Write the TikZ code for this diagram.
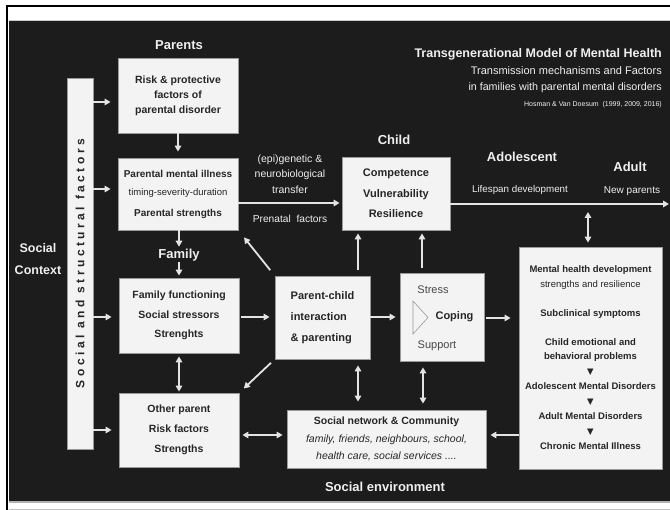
\documentclass[tikz,border=0pt]{standalone}
\usepackage{fontspec}
\setmainfont{Liberation Sans}
\newfontfamily\widefont[LetterSpace=29]{Liberation Sans}
\newfontfamily\symbfont{DejaVu Sans}
\usetikzlibrary{arrows.meta}

\definecolor{bgdark}{HTML}{1C1C1C}
\definecolor{boxfill}{HTML}{F3F3F3}
\definecolor{boxline}{HTML}{9A9A9A}
\definecolor{arrcol}{HTML}{E4E4E4}
\definecolor{boxtext}{HTML}{262626}
\definecolor{labtext}{HTML}{EFEFEF}
\newcommand{\fsz}[2]{\fontsize{#1}{#2}\selectfont}

\begin{document}
\begin{tikzpicture}[x=1pt, y=-1pt,
    box/.style={draw=boxline, fill=boxfill, line width=0.8pt, text=boxtext, inner sep=0pt, align=center},
    lab/.style={text=labtext, inner sep=1pt, align=center},
    arr/.style={draw=arrcol, line width=1.8pt, -{Triangle[length=6pt,width=6.5pt]}},
    dblarr/.style={arr, {Triangle[length=6pt,width=6.5pt]}-{Triangle[length=6pt,width=6.5pt]}}]
    \useasboundingbox (0,0) rectangle (670,510);
    \fill[white] (0,0) rectangle (670,510);
    \fill[bgdark] (9,20) rectangle (670,501);
    \draw[line width=2pt] (6,6) -- (670,6);
    \draw[line width=2pt] (7,5) -- (7,510);
    \draw[gray!40, line width=1pt] (9,20.5) -- (670,20.5);
    \draw[gray!60, line width=1.2pt] (9,502) -- (670,502);
    \draw[gray!50, line width=0.8pt] (9,509) -- (670,509);

    \node[lab, anchor=base east, font=\fsz{12.5}{15}\bfseries] (title) at (663,58) {Transgenerational Model of Mental Health};
    \node[lab, anchor=base east, font=\fsz{11}{13}] (subtitle) at (663,75) {Transmission mechanisms and Factors};
    \node[lab, anchor=base east, font=\fsz{10.7}{13}] (subtitleb) at (663,91) {in families with parental mental disorders};
    \node[lab, anchor=base east, font=\fsz{7}{9}, text=labtext!80] (credit) at (663,106.5) {Hosman \& Van Doesum \ (1999, 2009, 2016)};

    \node[box, rotate=90, minimum width=371pt, minimum height=26pt, font=\fsz{12}{13}\bfseries\widefont] (bar) at (80,263.5) {Social and structural factors};
    \node[lab, font=\fsz{12.5}{22}\bfseries] (context) at (38,259) {Social\\Context};

    \node[box, minimum width=120pt, minimum height=75pt, font=\fsz{10.5}{15}\bfseries] (risk) at (178,95.5) {Risk \& protective\\factors of\\parental disorder};
    \node[box, minimum width=120pt, minimum height=72pt, font=\fsz{10}{19}] (pmi) at (178,194) {{\bfseries Parental mental illness}\\[-1pt]{\fsz{9.5}{19}timing-severity-duration}\\[2pt]{\bfseries Parental strengths}};
    \node[box, minimum width=120pt, minimum height=75pt, font=\fsz{10.5}{19.5}\bfseries] (ff) at (179,315.5) {Family functioning\\Social stressors\\Strenghts};
    \node[box, minimum width=120pt, minimum height=74pt, font=\fsz{10.5}{20}\bfseries] (op) at (179,430) {Other parent\\Risk factors\\Strengths};
    \node[box, minimum width=95pt, minimum height=83pt, align=left, font=\fsz{11}{21}\bfseries] (pc) at (322.5,317.5) {Parent-child\\interaction\\\& parenting};
    \node[box, minimum width=84pt, minimum height=88pt] (sc) at (442,317) {};
    \node[box, minimum width=108pt, minimum height=73pt, font=\fsz{11}{20.5}\bfseries] (child) at (396,193.5) {Competence\\Vulnerability\\Resilience};
    \node[box, minimum width=199pt, minimum height=58pt, font=\fsz{10.5}{17.5}] (sn) at (386.5,439) {{\bfseries Social network \& Community}\\{\itshape family, friends, neighbours, school,}\\{\itshape health care, social services ....}};
    \node[box, minimum width=143pt, minimum height=222pt, font=\fsz{9.5}{15}\bfseries] (mh) at (590.5,358) {Mental health development\\{\mdseries strengths and resilience}\\[14pt]Subclinical symptoms\\[14pt]Child emotional and\\[-1pt]behavioral problems\\{\symbfont\fsz{8.5}{15}▼}\\Adolescent Mental Disorders\\{\symbfont\fsz{8.5}{15}▼}\\Adult Mental Disorders\\{\symbfont\fsz{8.5}{15}▼}\\Chronic Mental Illness};

    \node[font=\fsz{11}{13}, text=boxtext!85, inner sep=0pt] (stress) at (433,290) {Stress};
    \node[font=\fsz{11}{13}\bfseries, text=boxtext, inner sep=0pt] (coping) at (454.5,317) {Coping};
    \node[font=\fsz{11}{13}, text=boxtext!85, inner sep=0pt] (support) at (437,346) {Support};
    \draw[boxline, line width=0.6pt] (413,301) -- (428,317.5) -- (413,334) -- cycle;

    \node[lab, font=\fsz{13}{15}\bfseries] (parents) at (179,45) {Parents};
    \node[lab, font=\fsz{13}{15}\bfseries] (fam) at (179,255) {Family};
    \node[lab, font=\fsz{13}{15}\bfseries] (childlab) at (394,140) {Child};
    \node[lab, font=\fsz{13}{15}\bfseries] (adolescent) at (522,157) {Adolescent};
    \node[lab, font=\fsz{13}{15}\bfseries] (adult) at (630,167) {Adult};
    \node[lab, font=\fsz{9.8}{12}] (lifespan) at (520,190) {Lifespan development};
    \node[lab, font=\fsz{10}{12}] (newpar) at (632,191) {New parents};
    \node[lab, font=\fsz{10.5}{15.5}] (epi) at (290,174) {(epi)genetic \&\\neurobiological\\transfer};
    \node[lab, font=\fsz{10.2}{12}] (prenatal) at (290,219) {Prenatal \ factors};
    \node[lab, font=\fsz{13}{15}\bfseries] (socenv) at (385,487) {Social environment};

    \draw[arr, shorten >=7pt] (bar.south |- 0,102) -- (risk.west |- 0,102);
    \draw[arr, shorten >=7pt] (bar.south |- 0,189) -- (pmi.west |- 0,189);
    \draw[arr, shorten >=7pt] (bar.south |- 0,317) -- (ff.west |- 0,317);
    \draw[arr, shorten >=7pt] (bar.south |- 0,430) -- (op.west |- 0,430);

    \draw[arr, shorten >=6pt] (risk) -- (pmi);
    \draw[arr, shorten >=1pt] (pmi.south -| fam) -- (fam);
    \draw[arr, shorten >=2pt] (fam) -- (ff);
    \draw[dblarr, shorten <=3pt, shorten >=1pt] (ff) -- (op);
    \draw[arr, shorten <=2pt, shorten >=5pt] (ff.east |- 0,317) -- (pc.west |- 0,317);
    \draw[arr, shorten >=4pt] (pc.east |- 0,317) -- (sc.west |- 0,317);
    \draw[arr, shorten <=2pt, shorten >=8pt] (sc.east |- 0,318) -- (mh.west |- 0,318);
    \draw[arr, shorten >=4pt] (mh.west |- 0,435) -- (sn.east |- 0,435);
    \draw[dblarr, shorten <=3pt, shorten >=4pt] (op.east |- 0,435) -- (sn.west |- 0,435);

    \draw[arr, shorten <=6pt, shorten >=3pt] (pc.north -| 358,0) -- (child.south -| 358,0);
    \draw[arr, shorten <=5pt, shorten >=3pt] (sc.north -| 422,0) -- (child.south -| 422,0);
    \draw[dblarr, shorten <=6pt, shorten >=8pt] (pc.south -| 358,0) -- (sn.north -| 358,0);
    \draw[dblarr, shorten <=6pt, shorten >=6pt] (sc.south -| 423,0) -- (sn.north -| 423,0);

    \draw[arr, shorten >=2pt] (pmi.east |- 0,203) -- (child.west |- 0,203);
    \coordinate (lifeend) at (669,204);
    \coordinate (lifemh) at (588,204);
    \draw[arr] (child.east |- lifeend) -- (lifeend);
    \draw[dblarr, shorten <=8pt, shorten >=4pt] (lifemh) -- (mh.north -| lifemh);

    \draw[arr, shorten <=7pt, shorten >=9pt] (pc.north west) -- (pmi.south east);
    \draw[arr, shorten <=5pt, shorten >=6pt] (pc.south west) -- (op.north east);
\end{tikzpicture}
\end{document}
